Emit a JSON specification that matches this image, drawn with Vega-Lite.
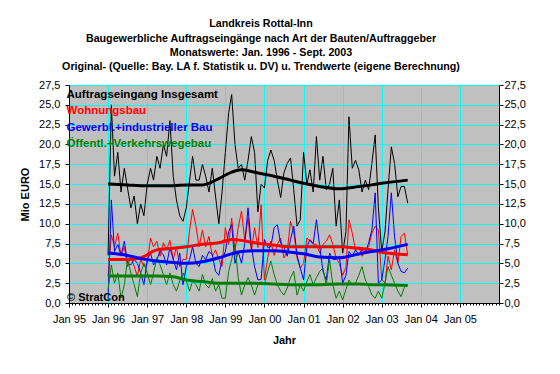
{
 "$schema": "https://vega.github.io/schema/vega-lite/v6.json",
 "width": 430, "height": 218,
 "autosize": {"type": "none"},
 "padding": {"left": 69, "top": 85, "right": 61, "bottom": 71},
 "background": "white",
 "title": {"text": ["Landkreis Rottal-Inn", "Baugewerbliche Auftragseingänge nach Art der Bauten/Auftraggeber", "Monatswerte: Jan. 1996 - Sept. 2003", "Original- (Quelle: Bay. LA f. Statistik u. DV) u. Trendwerte (eigene Berechnung)"],
  "font": "Liberation Sans", "fontSize": 10.7, "fontWeight": "bold", "lineHeight": 14.3, "anchor": "middle", "frame": "group", "dx": -23, "offset": 6, "color": "black"},
 "datasets": {
  "raw": [
   {"d":"1996-01-01","ges":6,"woh":3.4,"gew":0.5,"oef":1.7},
   {"d":"1996-02-01","ges":25,"woh":8.6,"gew":13,"oef":4.8},
   {"d":"1996-03-01","ges":16,"woh":7.1,"gew":6.5,"oef":2.5},
   {"d":"1996-04-01","ges":19,"woh":8.8,"gew":7.4,"oef":3.8},
   {"d":"1996-05-01","ges":14,"woh":5.9,"gew":6.0,"oef":0.6},
   {"d":"1996-06-01","ges":17,"woh":7.1,"gew":7.8,"oef":2.3},
   {"d":"1996-07-01","ges":14.5,"woh":4.6,"gew":5.0,"oef":5.5},
   {"d":"1996-08-01","ges":12,"woh":5.9,"gew":4.8,"oef":3.8},
   {"d":"1996-09-01","ges":13.5,"woh":4.6,"gew":5.5,"oef":2.3},
   {"d":"1996-10-01","ges":10,"woh":3.4,"gew":5.0,"oef":0.8},
   {"d":"1996-11-01","ges":12.5,"woh":5.5,"gew":3.8,"oef":3.8},
   {"d":"1996-12-01","ges":11,"woh":4.6,"gew":2.3,"oef":5.0},
   {"d":"1997-01-01","ges":15,"woh":5.0,"gew":5.5,"oef":3.8},
   {"d":"1997-02-01","ges":17,"woh":8.2,"gew":6.3,"oef":2.3},
   {"d":"1997-03-01","ges":15.5,"woh":7.1,"gew":4.8,"oef":3.8},
   {"d":"1997-04-01","ges":18.5,"woh":7.8,"gew":5.5,"oef":5.7},
   {"d":"1997-05-01","ges":17,"woh":5.9,"gew":6.5,"oef":4.8},
   {"d":"1997-06-01","ges":20,"woh":7.6,"gew":6.1,"oef":3.6},
   {"d":"1997-07-01","ges":18.5,"woh":6.7,"gew":4.8,"oef":2.3},
   {"d":"1997-08-01","ges":23,"woh":7.9,"gew":7.0,"oef":3.8},
   {"d":"1997-09-01","ges":16,"woh":5.5,"gew":5.5,"oef":2.3},
   {"d":"1997-10-01","ges":13,"woh":7.1,"gew":4.2,"oef":1.5},
   {"d":"1997-11-01","ges":11,"woh":4.6,"gew":6.3,"oef":2.8},
   {"d":"1997-12-01","ges":10.3,"woh":5.5,"gew":2.3,"oef":3.8},
   {"d":"1998-01-01","ges":12,"woh":5.5,"gew":4.6,"oef":2.8},
   {"d":"1998-02-01","ges":15.5,"woh":9.2,"gew":5.5,"oef":1.5},
   {"d":"1998-03-01","ges":18.5,"woh":11.8,"gew":7.1,"oef":2.8},
   {"d":"1998-04-01","ges":15.5,"woh":9.7,"gew":5.0,"oef":2.3},
   {"d":"1998-05-01","ges":15.5,"woh":7.1,"gew":4.6,"oef":1.5},
   {"d":"1998-06-01","ges":17.5,"woh":9.2,"gew":6.0,"oef":3.6},
   {"d":"1998-07-01","ges":16,"woh":7.1,"gew":5.5,"oef":2.3},
   {"d":"1998-08-01","ges":14,"woh":8.4,"gew":6.5,"oef":1.9},
   {"d":"1998-09-01","ges":17,"woh":5.9,"gew":6.1,"oef":3.1},
   {"d":"1998-10-01","ges":13.5,"woh":6.7,"gew":4.0,"oef":1.5},
   {"d":"1998-11-01","ges":10,"woh":5.5,"gew":3.5,"oef":2.3},
   {"d":"1998-12-01","ges":14,"woh":4.6,"gew":5.5,"oef":0.6},
   {"d":"1999-01-01","ges":19,"woh":9.5,"gew":6.5,"oef":0.6},
   {"d":"1999-02-01","ges":24,"woh":7.4,"gew":9.0,"oef":4.0},
   {"d":"1999-03-01","ges":26.3,"woh":10.7,"gew":9.9,"oef":5.5},
   {"d":"1999-04-01","ges":20,"woh":6.5,"gew":5.0,"oef":7.5},
   {"d":"1999-05-01","ges":17,"woh":9.5,"gew":6.5,"oef":3.2},
   {"d":"1999-06-01","ges":17.5,"woh":11.6,"gew":5.0,"oef":1.0},
   {"d":"1999-07-01","ges":15.5,"woh":7.9,"gew":7.5,"oef":2.3},
   {"d":"1999-08-01","ges":18,"woh":10.7,"gew":12,"oef":3.2},
   {"d":"1999-09-01","ges":21,"woh":6.5,"gew":7.1,"oef":2.3},
   {"d":"1999-10-01","ges":19,"woh":9.5,"gew":4.6,"oef":1.0},
   {"d":"1999-11-01","ges":11.5,"woh":7.0,"gew":2.9,"oef":2.3},
   {"d":"1999-12-01","ges":15,"woh":12.4,"gew":3.0,"oef":2.7},
   {"d":"2000-01-01","ges":14.5,"woh":2.9,"gew":8.0,"oef":2.3},
   {"d":"2000-02-01","ges":18,"woh":5.7,"gew":7.0,"oef":4.0},
   {"d":"2000-03-01","ges":19.3,"woh":7.8,"gew":7.1,"oef":5.3},
   {"d":"2000-04-01","ges":18,"woh":6.0,"gew":9.5,"oef":3.6},
   {"d":"2000-05-01","ges":15.5,"woh":7.4,"gew":9.9,"oef":2.3},
   {"d":"2000-06-01","ges":13.3,"woh":8.2,"gew":7.5,"oef":1.5},
   {"d":"2000-07-01","ges":16.4,"woh":5.7,"gew":7.1,"oef":1.0},
   {"d":"2000-08-01","ges":17.6,"woh":6.5,"gew":5.9,"oef":1.9},
   {"d":"2000-09-01","ges":18.3,"woh":10.3,"gew":8.0,"oef":3.2},
   {"d":"2000-10-01","ges":14.3,"woh":9.0,"gew":9.7,"oef":4.0},
   {"d":"2000-11-01","ges":9.7,"woh":5.7,"gew":6.0,"oef":1.0},
   {"d":"2000-12-01","ges":10.5,"woh":4.4,"gew":4.4,"oef":2.3},
   {"d":"2001-01-01","ges":19,"woh":5.0,"gew":2.9,"oef":1.5},
   {"d":"2001-02-01","ges":15,"woh":8.2,"gew":7.1,"oef":2.7},
   {"d":"2001-03-01","ges":16.8,"woh":7.8,"gew":8.0,"oef":3.6},
   {"d":"2001-04-01","ges":14,"woh":7.4,"gew":7.5,"oef":2.3},
   {"d":"2001-05-01","ges":21,"woh":7.4,"gew":10.5,"oef":3.2},
   {"d":"2001-06-01","ges":15.5,"woh":6.3,"gew":7.1,"oef":4.0},
   {"d":"2001-07-01","ges":18.5,"woh":7.4,"gew":4.0,"oef":4.4},
   {"d":"2001-08-01","ges":14.3,"woh":7.8,"gew":2.9,"oef":2.3},
   {"d":"2001-09-01","ges":15,"woh":8.6,"gew":6.3,"oef":5.5},
   {"d":"2001-10-01","ges":17,"woh":7.4,"gew":5.5,"oef":2.3},
   {"d":"2001-11-01","ges":9.7,"woh":5.7,"gew":5.5,"oef":0.6},
   {"d":"2001-12-01","ges":13,"woh":5.0,"gew":5.9,"oef":1.5},
   {"d":"2002-01-01","ges":6.3,"woh":3.5,"gew":2.5,"oef":0.4},
   {"d":"2002-02-01","ges":9,"woh":4.5,"gew":3.5,"oef":1.7},
   {"d":"2002-03-01","ges":23.5,"woh":10.5,"gew":6.5,"oef":2.9},
   {"d":"2002-04-01","ges":17,"woh":8.8,"gew":5.9,"oef":2.3},
   {"d":"2002-05-01","ges":18,"woh":6.7,"gew":6.7,"oef":2.5},
   {"d":"2002-06-01","ges":16.8,"woh":7.1,"gew":6.0,"oef":3.5},
   {"d":"2002-07-01","ges":14,"woh":5.9,"gew":6.7,"oef":4.6},
   {"d":"2002-08-01","ges":15.5,"woh":6.7,"gew":6.3,"oef":2.9},
   {"d":"2002-09-01","ges":14.3,"woh":7.1,"gew":7.6,"oef":2.1},
   {"d":"2002-10-01","ges":17.6,"woh":8.8,"gew":9.2,"oef":1.0},
   {"d":"2002-11-01","ges":21.2,"woh":9.7,"gew":13.9,"oef":0.6},
   {"d":"2002-12-01","ges":12,"woh":9.2,"gew":2.5,"oef":1.5},
   {"d":"2003-01-01","ges":6.5,"woh":3.0,"gew":2.9,"oef":0.6},
   {"d":"2003-02-01","ges":9,"woh":2.5,"gew":5.5,"oef":2.5},
   {"d":"2003-03-01","ges":14.3,"woh":5.9,"gew":8.4,"oef":4.6},
   {"d":"2003-04-01","ges":19.7,"woh":4.2,"gew":13.9,"oef":3.5},
   {"d":"2003-05-01","ges":17.6,"woh":6.7,"gew":8.4,"oef":2.5},
   {"d":"2003-06-01","ges":13.4,"woh":5.0,"gew":5.0,"oef":1.5},
   {"d":"2003-07-01","ges":14.7,"woh":8.4,"gew":4.0,"oef":0.8},
   {"d":"2003-08-01","ges":14.7,"woh":8.8,"gew":3.8,"oef":2.0},
   {"d":"2003-09-01","ges":12.6,"woh":6.1,"gew":4.4,"oef":2.3}
  ],
  "trend": [
   {"d":"1996-01-01","ges":15.0,"woh":5.5,"gew":6.3,"oef":3.4},
   {"d":"1996-07-01","ges":14.9,"woh":5.5,"gew":6.0,"oef":3.4},
   {"d":"1996-11-01","ges":14.8,"woh":5.7,"gew":5.6,"oef":3.4},
   {"d":"1997-04-01","ges":14.8,"woh":6.7,"gew":5.3,"oef":3.4},
   {"d":"1997-09-01","ges":14.8,"woh":6.9,"gew":5.1,"oef":3.3},
   {"d":"1998-01-01","ges":14.9,"woh":7.1,"gew":5.0,"oef":2.9},
   {"d":"1998-06-01","ges":14.9,"woh":7.4,"gew":5.2,"oef":2.7},
   {"d":"1998-11-01","ges":15.7,"woh":7.6,"gew":5.7,"oef":2.5},
   {"d":"1999-03-01","ges":16.5,"woh":8.0,"gew":6.2,"oef":2.5},
   {"d":"1999-06-01","ges":16.8,"woh":7.9,"gew":6.5,"oef":2.5},
   {"d":"1999-10-01","ges":16.5,"woh":7.6,"gew":6.6,"oef":2.5},
   {"d":"2000-04-01","ges":16.0,"woh":7.3,"gew":6.6,"oef":2.4},
   {"d":"2000-09-01","ges":15.5,"woh":7.1,"gew":6.4,"oef":2.3},
   {"d":"2001-01-01","ges":15.1,"woh":7.1,"gew":6.2,"oef":2.3},
   {"d":"2001-06-01","ges":14.7,"woh":7.1,"gew":5.8,"oef":2.3},
   {"d":"2001-12-01","ges":14.4,"woh":7.1,"gew":5.7,"oef":2.4},
   {"d":"2002-06-01","ges":14.7,"woh":6.9,"gew":6.2,"oef":2.4},
   {"d":"2002-10-01","ges":14.9,"woh":6.7,"gew":6.5,"oef":2.3},
   {"d":"2003-01-01","ges":15.1,"woh":6.4,"gew":6.7,"oef":2.3},
   {"d":"2003-09-01","ges":15.5,"woh":6.1,"gew":7.4,"oef":2.2}
  ]
 },
 "config": {
  "font": "Liberation Sans",
  "view": {"fill": "#C0C0C0", "stroke": "black", "strokeWidth": 1},
  "axis": {"labelFont": "Liberation Sans", "labelFontSize": 11, "labelColor": "black", "titleFont": "Liberation Sans", "titleFontSize": 11, "titleFontWeight": "bold", "titleColor": "black", "domainColor": "black", "tickColor": "black", "gridColor": "#00FFFF", "gridOpacity": 1, "gridWidth": 1}
 },
 "layer": [
  {
   "data": {"name": "raw"},
   "transform": [{"fold": ["ges", "woh", "gew", "oef"], "as": ["serie", "wert"]}],
   "mark": {"type": "line", "strokeWidth": 1},
   "encoding": {
    "x": {"field": "d", "type": "temporal",
     "scale": {"type": "utc", "domain": [{"year": 1995, "month": 1, "date": 1, "utc": true}, {"year": 2006, "month": 1, "date": 1, "utc": true}]},
     "axis": {"values": [{"year": 1995, "utc": true}, {"year": 1996, "utc": true}, {"year": 1997, "utc": true}, {"year": 1998, "utc": true}, {"year": 1999, "utc": true}, {"year": 2000, "utc": true}, {"year": 2001, "utc": true}, {"year": 2002, "utc": true}, {"year": 2003, "utc": true}, {"year": 2004, "utc": true}, {"year": 2005, "utc": true}],
      "format": "%b %y", "title": "Jahr", "tickSize": 4, "labelPadding": 6, "titlePadding": 10, "labelAngle": 0, "labelOverlap": false, "labelFlush": false, "grid": true}},
    "y": {"field": "wert", "type": "quantitative", "scale": {"domain": [0, 27.5], "nice": false},
     "axis": {"values": [0, 2.5, 5, 7.5, 10, 12.5, 15, 17.5, 20, 22.5, 25, 27.5], "labelExpr": "replace(format(datum.value, '.1f'), '.', ',')", "title": "Mio EURO", "tickSize": 4, "labelPadding": 5, "titlePadding": 8, "labelFlush": false, "grid": true}},
    "color": {"field": "serie", "type": "nominal",
     "scale": {"domain": ["ges", "woh", "gew", "oef"], "range": ["#000000", "#FF0000", "#0000FF", "#008000"]},
     "legend": {"title": null, "orient": "top-left", "offset": 4, "padding": 0, "symbolSize": 1, "symbolOpacity": 0, "symbolStrokeWidth": 0, "labelOffset": -18, "labelFont": "Liberation Sans", "labelFontSize": 11.5, "labelFontWeight": "bold", "rowPadding": 3.5,
      "labelExpr": "{'ges': 'Auftragseingang Insgesamt', 'woh': 'Wohnungsbau', 'gew': 'Gewerbl.+industrieller Bau', 'oef': 'Öffentl.+Verkehrswegebau'}[datum.value]",
      "encode": {"labels": {"update": {"fill": {"scale": "color", "field": "value"}}}}}}
   }
  },
  {
   "data": {"name": "trend"},
   "transform": [{"fold": ["ges", "woh", "gew", "oef"], "as": ["serie", "wert"]}],
   "mark": {"type": "line", "strokeWidth": 3, "interpolate": "monotone"},
   "encoding": {
    "x": {"field": "d", "type": "temporal", "axis": null},
    "y": {"field": "wert", "type": "quantitative",
     "axis": {"orient": "right", "values": [0, 2.5, 5, 7.5, 10, 12.5, 15, 17.5, 20, 22.5, 25, 27.5], "labelExpr": "replace(format(datum.value, '.1f'), '.', ',')", "title": null, "tickSize": 4, "labelPadding": 1, "labelFlush": false, "grid": false}},
    "color": {"field": "serie", "type": "nominal", "legend": null}
   }
  },
  {
   "data": {"values": [{}]},
   "mark": {"type": "text", "text": "© StratCon", "align": "left", "baseline": "alphabetic", "dx": -2, "dy": -2, "font": "Liberation Sans", "fontSize": 11, "fontWeight": "bold", "color": "black"},
   "encoding": {
    "x": {"datum": {"year": 1995, "month": 1, "date": 1, "utc": true}, "type": "temporal",
     "axis": {"orient": "bottom", "tickCount": {"interval": "month", "step": 1}, "labels": false, "grid": false, "domain": false, "title": null, "tickSize": 2, "tickColor": "black"}},
    "y": {"datum": 0, "type": "quantitative", "axis": null}
   }
  }
 ],
 "resolve": {"axis": {"x": "independent", "y": "independent"}}
}
